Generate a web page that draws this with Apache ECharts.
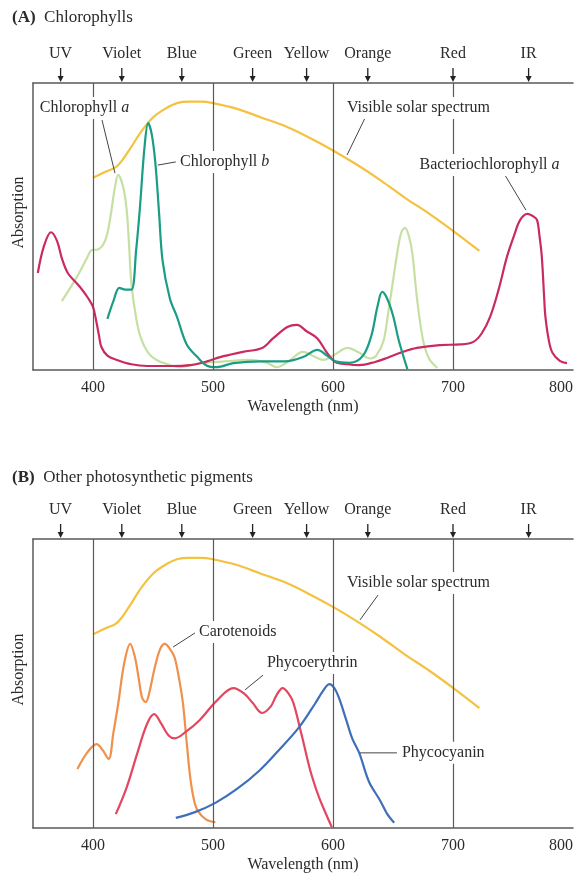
<!DOCTYPE html>
<html>
<head>
<meta charset="utf-8">
<script src="https://cdn.jsdelivr.net/npm/echarts@6/dist/echarts.min.js"></script>
<style>
html, body { margin: 0; padding: 0; background: #fff; }
#chart { width: 576px; height: 875px; }
</style>
</head>
<body>
<div id="chart"></div>
<script>
// colour bands above each panel (wavelength in nm)
var bandNames = ['UV', 'Violet', 'Blue', 'Green', 'Yellow', 'Orange', 'Red', 'IR'];
var bandNm = [373, 424, 474, 533, 578, 629, 700, 763];
var tickValues = [400, 500, 600, 700, 800];
var dividerNm = [400, 500, 600, 700];

// visible solar spectrum (same curve in both panels)
var solarNm  = [400, 410, 420, 430, 440, 450, 460, 470, 480, 490, 500, 520, 540, 560, 580, 600, 620, 640, 660, 680, 700, 722];
var solarAbs = [67, 69, 71, 76.5, 83, 88, 91, 93, 93.5, 93.5, 93, 91, 88, 85, 81, 76.5, 71.5, 66, 60, 54.5, 48.5, 41.5];

// panel A
var chlANm  = [374, 386, 395, 399, 404, 410, 414, 418, 421, 425, 428, 430, 432, 436, 440, 446, 453, 462, 472, 490, 510, 531, 545, 553, 563, 575, 583, 592, 602, 612, 622, 631, 636, 642, 646, 650, 654, 657, 660, 663, 666, 670, 675, 680, 687];
var chlAAbs = [24, 32, 39, 41.8, 42, 45, 52, 63, 68, 64, 56, 44, 30, 18, 11, 6, 3.5, 2, 1, 2.4, 3, 3.5, 2.5, 1, 3, 6.3, 5, 3.5, 5.5, 7.7, 6, 4, 5, 10, 20, 31, 42, 48, 49.5, 47, 41, 25, 10.5, 4, 0.7];

var chlBNm  = [412, 417, 422, 427, 432, 436, 439, 443, 446, 449, 452, 455, 458, 464, 470, 478, 487, 495, 503, 517, 540, 560, 575, 587, 595, 602, 614, 625, 632, 637, 641, 645, 650, 655, 662];
var chlBAbs = [17.8, 24, 28.6, 28, 28, 42, 56, 78, 86, 82, 72, 55, 38, 25, 18.5, 9, 4.5, 1.5, 1, 2.4, 3, 3, 4.5, 7, 5, 3, 2.5, 5, 12, 22, 27.2, 25, 19, 10, 0.3];

var bchlNm  = [354, 359, 365, 370, 374, 379, 389, 396, 400, 403, 405, 407, 412, 420, 432, 445, 465, 481, 495, 506, 525, 541, 550, 562, 570, 578, 587, 595, 602, 612, 622, 635, 645, 658, 670, 689, 706, 717, 724, 731, 738, 745, 751, 756, 762, 767, 770, 772, 774, 776, 777, 780, 783, 789, 795];
var bchlAbs = [33.8, 43, 48, 45, 39, 33.8, 29, 25, 22, 16.4, 12, 8, 5, 3.5, 2, 1.4, 1.4, 1.7, 3, 4.5, 6.3, 7.7, 11, 15, 15.7, 13.5, 11, 6, 2.8, 2, 1.7, 2.8, 4.2, 6.3, 7.7, 8.7, 8.9, 9.8, 12.8, 18.6, 28, 39.5, 47, 52.3, 54.4, 53.5, 52.3, 47, 39.5, 25, 18.6, 10, 5.9, 3.2, 2.4];

// panel B
var caroNm  = [387, 395, 403, 408, 413, 417, 421, 426, 431, 435, 438, 441, 444, 447, 451, 456, 460, 464, 468, 472, 475, 478, 481, 484, 487, 494, 502];
var caroAbs = [20.4, 26, 29, 27, 23.9, 33, 43, 57, 63.7, 59, 52, 45, 43.6, 47, 54.7, 62, 63.7, 62, 59, 51, 43, 30, 17.6, 10, 6.2, 3, 2];

var phycoeNm  = [419, 428, 437, 445, 451, 457, 463, 468, 478, 489, 503, 517, 526, 533, 541, 548, 553, 558, 563, 567, 574, 581, 588, 594, 599];
var phycoeAbs = [4.8, 14, 26, 36, 39.4, 36, 32, 31, 33.5, 37.4, 44, 48.4, 46.5, 43.3, 39.8, 42, 46, 48.4, 46.5, 43.3, 32, 20, 11, 5, 0.3];

var phycocNm  = [469, 485, 502, 520, 539, 555, 572, 585, 591, 597, 601, 605, 611, 616, 622, 630, 639, 645, 651];
var phycocAbs = [3.5, 5.5, 8.7, 13.5, 20, 27, 35, 43, 47, 49.8, 48.5, 45, 37.4, 31, 25.8, 16, 9.7, 5, 1.8];

var FONT = '"Liberation Serif", "DejaVu Serif", serif';
var INK = '#2b2b2b';
var RULE = '#5a5a5a';

function pairs(xs, ys) {
  return xs.map(function (x, i) { return [x, ys[i]]; });
}

var myChart = echarts.init(document.getElementById('chart'));

function bottomAxis(gridIndex) {
  return {
    type: 'value', gridIndex: gridIndex, position: 'bottom',
    min: 350, max: 800,
    name: 'Wavelength (nm)', nameLocation: 'middle', nameGap: 29,
    nameTextStyle: { fontFamily: FONT, fontSize: 16, color: INK },
    axisLine: { show: true, lineStyle: { color: RULE, width: 1.5 } },
    axisTick: { show: false },
    splitLine: { show: false },
    axisLabel: {
      customValues: tickValues, margin: 10, alignMaxLabel: 'right',
      fontFamily: FONT, fontSize: 16, color: INK
    }
  };
}
function topAxis(gridIndex) {
  return {
    type: 'value', gridIndex: gridIndex, position: 'top',
    min: 350, max: 800,
    axisLine: { show: true, lineStyle: { color: RULE, width: 1.5 } },
    axisTick: { show: false }, axisLabel: { show: false }, splitLine: { show: false }
  };
}
function leftAxis(gridIndex) {
  return {
    type: 'value', gridIndex: gridIndex, min: 0, max: 100,
    axisLine: { show: true, lineStyle: { color: RULE, width: 1.5 } },
    axisTick: { show: false }, axisLabel: { show: false }, splitLine: { show: false }
  };
}
function curve(name, g, xs, ys, color, withDividers) {
  var s = {
    name: name, type: 'line', xAxisIndex: g * 2, yAxisIndex: g,
    data: pairs(xs, ys), smooth: 0.35, showSymbol: false, symbol: 'none',
    lineStyle: { color: color, width: 2.2 }, itemStyle: { color: color },
    z: 3
  };
  if (withDividers) {
    s.markLine = {
      silent: true, symbol: ['none', 'none'], label: { show: false },
      lineStyle: { color: RULE, width: 1.2, type: 'solid' },
      data: dividerNm.map(function (v) { return { xAxis: v }; })
    };
  }
  return s;
}

option = {
  animation: false,
  title: [
    { text: '{b|(A)}  Chlorophylls', left: 12, top: 9, padding: 0,
      textStyle: { fontFamily: FONT, fontSize: 17, fontWeight: 'normal', color: INK,
        rich: { b: { fontFamily: FONT, fontSize: 17, fontWeight: 'bold', color: INK } } } },
    { text: '{b|(B)}  Other photosynthetic pigments', left: 12, top: 469, padding: 0,
      textStyle: { fontFamily: FONT, fontSize: 17, fontWeight: 'normal', color: INK,
        rich: { b: { fontFamily: FONT, fontSize: 17, fontWeight: 'bold', color: INK } } } }
  ],
  grid: [
    { left: 33, right: 2, top: 83, height: 287 },
    { left: 33, right: 2, top: 539, height: 289 }
  ],
  xAxis: [bottomAxis(0), topAxis(0), bottomAxis(1), topAxis(1)],
  yAxis: [leftAxis(0), leftAxis(1)],
  series: [
    curve('Visible solar spectrum', 0, solarNm, solarAbs, '#f4c140', true),
    curve('Chlorophyll a', 0, chlANm, chlAAbs, '#c6e0a4', false),
    curve('Bacteriochlorophyll a', 0, bchlNm, bchlAbs, '#c92b5e', false),
    curve('Chlorophyll b', 0, chlBNm, chlBAbs, '#1a9d84', false),
    curve('Visible solar spectrum', 1, solarNm, solarAbs, '#f4c140', true),
    curve('Carotenoids', 1, caroNm, caroAbs, '#ef914b', false),
    curve('Phycoerythrin', 1, phycoeNm, phycoeAbs, '#e2475f', false),
    curve('Phycocyanin', 1, phycocNm, phycocAbs, '#3f6fba', false)
  ]
};

myChart.setOption(option);

// annotations in data coordinates: label anchor (left, middle) and leader line
var notes = [
  { g: 0, text: 'Chlorophyll {i|a}', at: [354, 91.3], from: [407.5, 87.1], to: [418.3, 68.6] },
  { g: 0, text: 'Chlorophyll {i|b}', at: [470.8, 72.5], from: [454, 71.4], to: [469, 72.5] },
  { g: 0, text: 'Visible solar spectrum', at: [610, 91.3], from: [626.7, 87.8], to: [611.7, 74.9] },
  { g: 0, text: 'Bacteriochlorophyll {i|a}', at: [670.5, 71.4], from: [743.3, 67.9], to: [760.8, 55.7] },
  { g: 1, text: 'Visible solar spectrum', at: [610, 84.8], from: [637.5, 80.6], to: [622.5, 72] },
  { g: 1, text: 'Carotenoids', at: [486.7, 67.8], from: [485, 67.5], to: [466.7, 62.6] },
  { g: 1, text: 'Phycoerythrin', at: [543.3, 57.1], from: [541.7, 52.9], to: [526.7, 47.8] },
  { g: 1, text: 'Phycocyanin', at: [655.8, 26], from: [622.5, 26], to: [653.3, 26] }
];

function px(g, p) {
  return myChart.convertToPixel({ xAxisIndex: g * 2, yAxisIndex: g }, p);
}

var graphics = [];
[0, 1].forEach(function (g) {
  var top = px(g, [350, 100])[1];
  var mid = (top + px(g, [350, 0])[1]) / 2;
  bandNames.forEach(function (name, i) {
    var x = px(g, [bandNm[i], 100])[0];
    graphics.push({ type: 'text', z: 100, style: { text: name, x: x, y: top - 29, align: 'center', verticalAlign: 'middle', font: '16px ' + FONT, fill: INK } });
    graphics.push({ type: 'line', z: 100, shape: { x1: x, y1: top - 15, x2: x, y2: top - 6 }, style: { stroke: '#222', lineWidth: 1.3 } });
    graphics.push({ type: 'polygon', z: 100, shape: { points: [[x - 3, top - 7], [x + 3, top - 7], [x, top - 1]] }, style: { fill: '#222' } });
  });
  graphics.push({ type: 'text', z: 100, rotation: Math.PI / 2, x: 19, y: mid - 14,
    style: { text: 'Absorption', x: 0, y: 0, align: 'center', verticalAlign: 'middle', font: '16px ' + FONT, fill: INK } });
});

notes.forEach(function (n) {
  var a = px(n.g, n.at), f = px(n.g, n.from), t = px(n.g, n.to);
  graphics.push({ type: 'line', z: 90, shape: { x1: f[0], y1: f[1], x2: t[0], y2: t[1] }, style: { stroke: '#444', lineWidth: 1 } });
  graphics.push({ type: 'text', z: 100, style: {
    text: n.text, x: a[0], y: a[1], align: 'left', verticalAlign: 'middle',
    font: '16px ' + FONT, fill: INK, backgroundColor: '#fff', padding: [3, 2],
    rich: { i: { fontStyle: 'italic', fontFamily: FONT, fontSize: 16, fill: INK } }
  } });
});

myChart.setOption({ graphic: { elements: graphics } });
</script>
</body>
</html>
